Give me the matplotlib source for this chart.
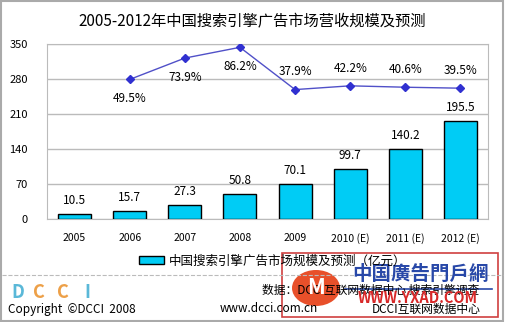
import numpy as np
import matplotlib
matplotlib.use('Agg')
import matplotlib.pyplot as plt
from matplotlib.patches import Rectangle, Ellipse
from matplotlib.lines import Line2D

plt.rcParams['font.family'] = ['Noto Sans CJK SC', 'DejaVu Sans']

# data
years = ['2005', '2006', '2007', '2008', '2009', '2010 (E)', '2011 (E)', '2012 (E)']
revenue = [10.5, 15.7, 27.3, 50.8, 70.1, 99.7, 140.2, 195.5]
growth = [None, 49.5, 73.9, 86.2, 37.9, 42.2, 40.6, 39.5]
legend_label = '中国搜索引擎广告市场规模及预测（亿元）'

W, H = 505, 322
fig = plt.figure(figsize=(W / 100, H / 100), dpi=100)
fig.patch.set_facecolor('white')

def fx(px):
    return px / W

def fy(py):
    return 1 - py / H

ax = fig.add_axes([fx(47), fy(219), fx(441), 175 / H])
x = np.arange(len(years))
bars = ax.bar(x, revenue, width=0.6, color='#00CCF5', edgecolor='black', lw=1, zorder=3)
for xi, v in zip(x, revenue):
    ax.annotate(f'{v:.1f}', (xi, v), xytext=(0, 5), textcoords='offset points',
                ha='center', va='bottom', fontsize=8.5)
ax.set_xlim(-0.5, len(years) - 0.5)
ax.set_ylim(0, 350)
ax.set_yticks(np.arange(0, 351, 70))
ax.set_xticks(x)
ax.set_xticklabels(years, fontsize=7.5)
ax.tick_params(axis='y', labelsize=8, length=0, pad=14)
ax.tick_params(axis='x', length=0, pad=10)
ax.grid(axis='y', color='#BBBBBB', lw=1, zorder=0)
for s in ax.spines.values():
    s.set_color('#BBBBBB')

# growth line on hidden second axis
ax2 = ax.twinx()
gx = [xi for xi, g in zip(x, growth) if g is not None]
gv = [g for g in growth if g is not None]
ax2.plot(gx, gv, color='#5050C8', lw=1, marker='D', ms=4,
         markerfacecolor='#3030D0', markeredgecolor='#3030D0', zorder=4)
ax2.set_ylim(-110, 90)
ax2.axis('off')
for xi, g in zip(gx, gv):
    if g > 45:
        ax2.annotate(f'{g:.1f}%', (xi, g), xytext=(0, -9), textcoords='offset points',
                     ha='center', va='top', fontsize=8.5)
    else:
        ax2.annotate(f'{g:.1f}%', (xi, g), xytext=(0, 8), textcoords='offset points',
                     ha='center', va='bottom', fontsize=8.5)

fig.text(fx(252), fy(22), '2005-2012年中国搜索引擎广告市场营收规模及预测',
         ha='center', va='center', fontsize=11)

fig.legend([bars], [legend_label], loc='center left',
           bbox_to_anchor=(fx(128), fy(261)), frameon=False, fontsize=9,
           handlelength=2.0, handleheight=0.55, handletextpad=0.4)

# footer
fig.add_artist(Line2D([fx(2), fx(503)], [fy(275), fy(275)], ls='--', lw=0.8, color='#BBBBBB'))
fig.text(fx(11), fy(292), 'D', color='#5AB8D8', fontsize=13, fontweight='bold', va='center')
fig.text(fx(33), fy(292), 'C', color='#EDA048', fontsize=13, fontweight='bold', va='center')
fig.text(fx(57), fy(292), 'C', color='#EDA048', fontsize=13, fontweight='bold', va='center')
fig.text(fx(84), fy(292), 'I', color='#5AB8D8', fontsize=13, fontweight='bold', va='center')
fig.text(fx(8), fy(309), 'Copyright  ©DCCI  2008', fontsize=8.5, va='center')
fig.text(fx(262), fy(290), '数据：DCCI互联网数据中心 搜索引擎调查', fontsize=8.5, va='center')
fig.text(fx(220), fy(309), 'www.dcci.com.cn', fontsize=8.5, va='center')
fig.text(fx(372), fy(309), 'DCCI互联网数据中心', fontsize=8.5, va='center')

# watermark
fig.add_artist(Rectangle((fx(282), fy(317)), fx(216), 64 / H, transform=fig.transFigure,
                         facecolor='white', alpha=0.8, edgecolor='none'))
fig.add_artist(Rectangle((fx(282), fy(317)), fx(216), 64 / H, transform=fig.transFigure,
                         facecolor='none', edgecolor='#D04040', lw=1.2))
fig.add_artist(Ellipse((fx(316), fy(288)), fx(48), 36 / H, transform=fig.transFigure,
                       facecolor='#E8502A', edgecolor='none'))
fig.text(fx(316), fy(288), 'M', color='white', fontsize=15, fontweight='bold',
         style='italic', ha='center', va='center')
fig.text(fx(420), fy(274), '中国廣告門戶網', color='#2848A8', fontsize=14,
         fontweight='bold', ha='center', va='center')
fig.add_artist(Line2D([fx(345), fx(492)], [fy(289), fy(289)], lw=1.2, color='#2848A8'))
fig.text(fx(418), fy(298), 'WWW.YXAD.COM', color='#D82828', fontsize=10.5,
         fontweight='bold', ha='center', va='center')

# outer frame
fig.add_artist(Rectangle((0.002, 0.003), 0.995, 0.994, transform=fig.transFigure,
                         facecolor='none', edgecolor='#AAAAAA', lw=1.5))

fig.savefig('out.png', dpi=100)
